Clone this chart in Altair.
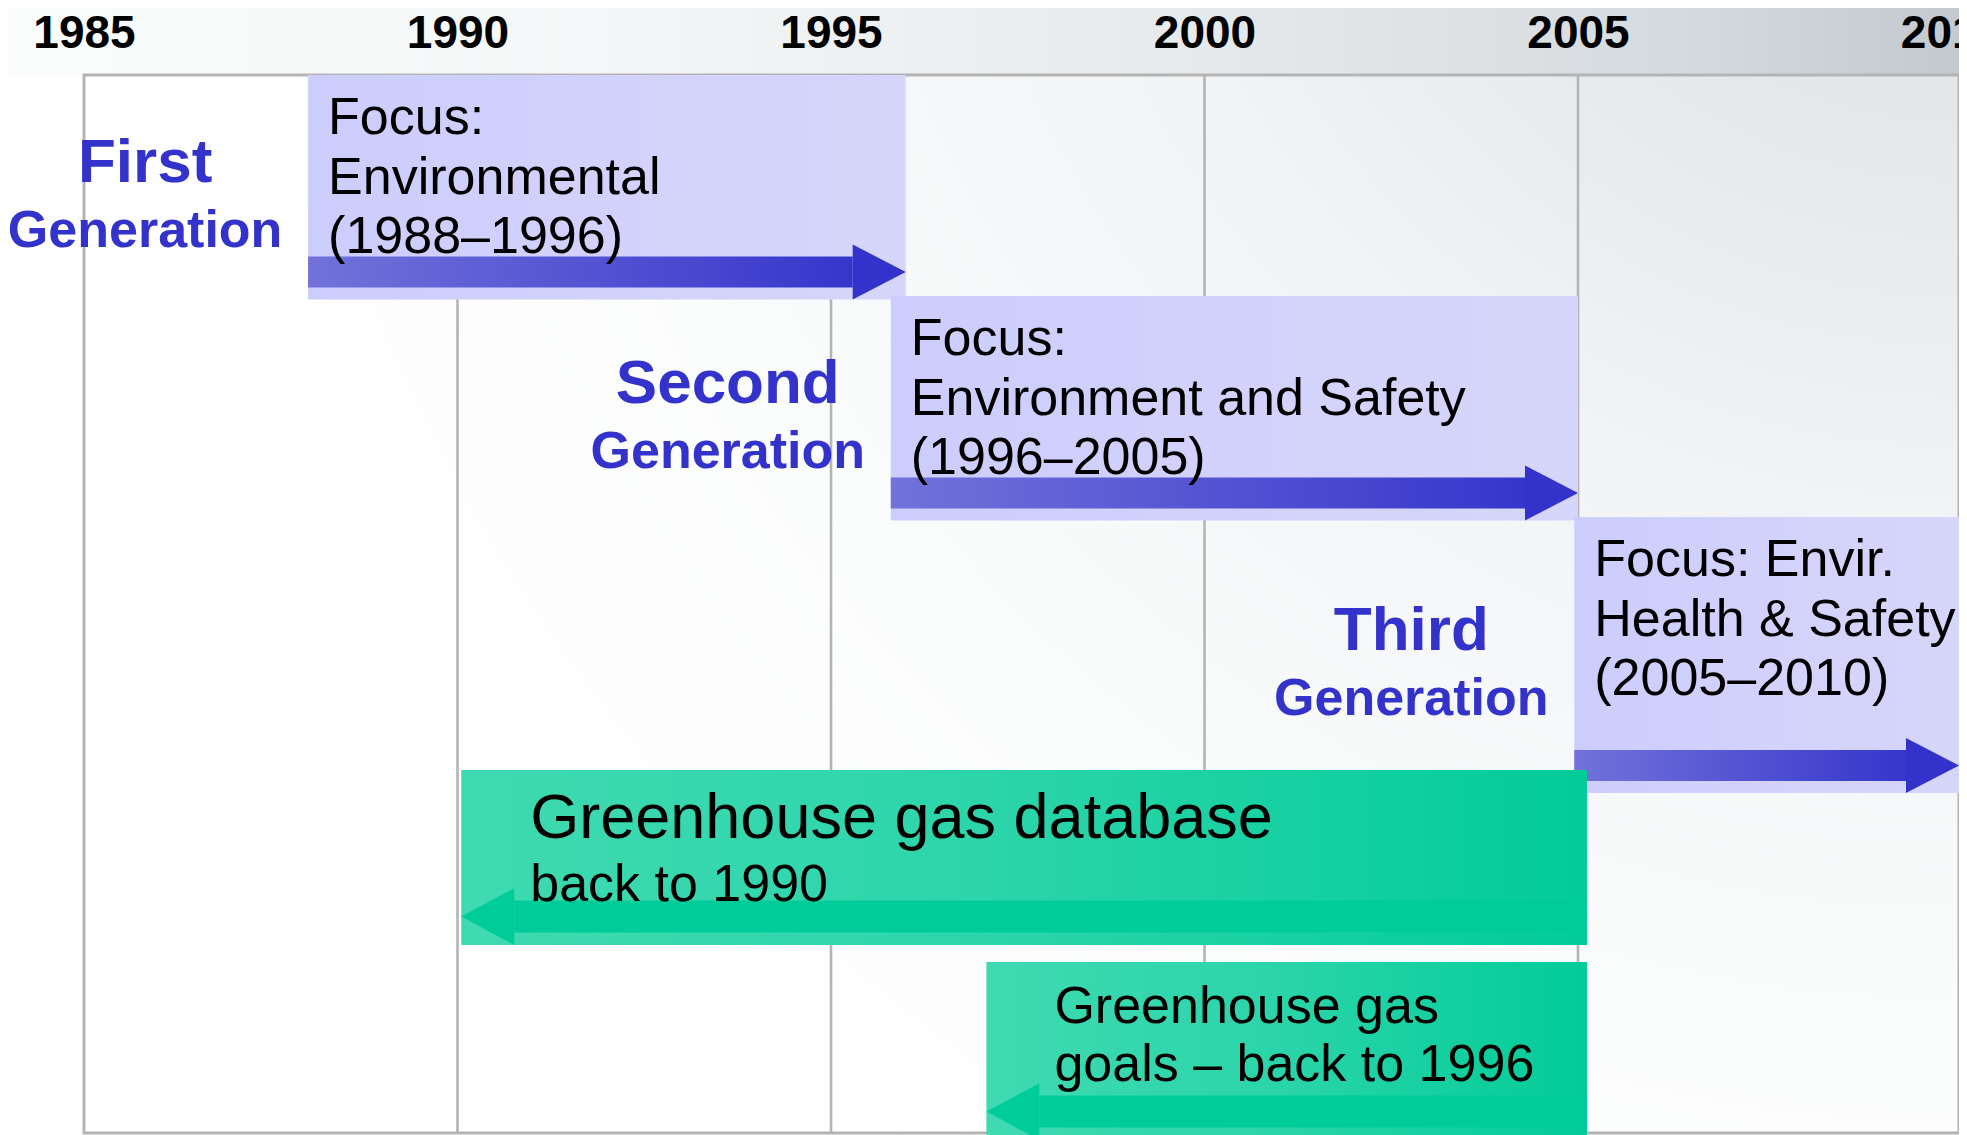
import altair as alt
import pandas as pd

# ---------------- data ----------------
tick_years = [1985, 1990, 1995, 2000, 2005, 2010]
grid_years = [1990, 1995, 2000, 2005]

gen_names = ["First", "Second", "Third"]
gen_start = [1988.0, 1995.8, 2004.95]
gen_end = [1996.0, 2005.0, 2010.1]
gen_focus = [
    "Focus:\nEnvironmental\n(1988\u20131996)",
    "Focus:\nEnvironment and Safety\n(1996\u20132005)",
    "Focus: Envir.\nHealth & Safety\n(2005\u20132010)",
]

ghg_start = [1990.05, 1997.08]
ghg_end = [2005.12, 2005.12]
ghg_title = ["Greenhouse gas database", "Greenhouse gas"]
ghg_sub = ["back to 1990", "goals \u2013 back to 1996"]

# ---------------- layout (pixels, measured down from the plot top) ----------------
W, H = 1875, 1058
X_DOMAIN = [1985, 2010.1]
PX_PER_YEAR = W / (X_DOMAIN[1] - X_DOMAIN[0])
HEAD_YEARS = 53 / PX_PER_YEAR

lav_top = [0, 221, 442]
lav_bottom = [224.5, 445.5, 718]
ghg_top = [695, 887]
ghg_bottom = [870, 1065]

FONT = "Liberation Sans, Arial, Helvetica, sans-serif"
BLUE = "#3333CC"
GREEN = "#00CC99"
GRID = "#B4B4B4"

xs = alt.Scale(domain=X_DOMAIN, nice=False, zero=False)
ys = alt.Scale(domain=[0, H], reverse=True, nice=False, zero=False)


def X(f):
    return alt.X(f, type="quantitative", scale=xs,
                 axis=alt.Axis(orient="top", values=tick_years, format="d", title=None,
                               labelFont=FONT, labelFontSize=46, labelFontWeight="bold",
                               labelColor="black", labelPadding=28, labelBaseline="alphabetic",
                               labelFlush=False, labelOverlap=False, ticks=False, tickSize=0,
                               domain=False, grid=False, zindex=1))


def Y(f):
    return alt.Y(f, type="quantitative", scale=ys, axis=None, stack=False)


# ---------------- tables ----------------
gen_df = pd.DataFrame({"name": gen_names, "start": gen_start, "end": gen_end,
                       "focus": gen_focus, "top": lav_top, "bottom": lav_bottom})
gen_df["mid"] = (gen_df["top"] + gen_df["bottom"]) / 2
gen_df["c"] = gen_df["bottom"] - 27.5
gen_df["s1"] = gen_df["c"] - 15.5
gen_df["s2"] = gen_df["c"] + 15.5
gen_df["hb"] = gen_df["end"] - HEAD_YEARS

gen_heads = []
for i, r in gen_df.iterrows():
    gen_heads.append({"id": i, "x": r["hb"], "y": r["c"] - 27.5, "y2": r["c"] + 27.5})
    gen_heads.append({"id": i, "x": r["end"], "y": r["c"], "y2": r["c"]})
gen_heads = pd.DataFrame(gen_heads)

ghg_df = pd.DataFrame({"start": ghg_start, "end": ghg_end, "top": ghg_top,
                       "bottom": ghg_bottom, "title": ghg_title, "sub": ghg_sub})
ghg_df["c"] = ghg_df["bottom"] - 28.4
ghg_df["s1"] = ghg_df["c"] - 16
ghg_df["s2"] = ghg_df["c"] + 16
ghg_df["hb"] = ghg_df["start"] + HEAD_YEARS

ghg_heads = []
for i, r in ghg_df.iterrows():
    ghg_heads.append({"id": i, "x": r["start"], "y": r["c"], "y2": r["c"]})
    ghg_heads.append({"id": i, "x": r["hb"], "y": r["c"] - 28.4, "y2": r["c"] + 28.4})
ghg_heads = pd.DataFrame(ghg_heads)

one = pd.DataFrame({"k": [0]})
grid_df = pd.DataFrame({"year": grid_years})


def grad(c0, c1, mid=None):
    stops = [alt.GradientStop(color=c0, offset=0)]
    if mid:
        stops.append(alt.GradientStop(color=mid[0], offset=mid[1]))
    stops.append(alt.GradientStop(color=c1, offset=1))
    return alt.LinearGradient(gradient="linear", stops=stops, x1=0, x2=1, y1=0, y2=0)


# ---------------- layers ----------------
band_bg = alt.Chart(one).mark_rect(
    fill=alt.LinearGradient(gradient="linear", x1=0, y1=0, x2=1, y2=0, stops=[
        alt.GradientStop(color="#FBFCFC", offset=0),
        alt.GradientStop(color="#F4F6F7", offset=0.3),
        alt.GradientStop(color="#E7EAEC", offset=0.6),
        alt.GradientStop(color="#D5DADE", offset=0.85),
        alt.GradientStop(color="#C2C8CD", offset=1),
    ])
).encode(x=alt.value(-80), x2=alt.value(W + 20), y=alt.value(-70), y2=alt.value(0))

plot_bg = alt.Chart(one).mark_rect(
    fill=alt.RadialGradient(gradient="radial", x1=1, y1=0, r1=0, x2=1, y2=0, r2=1, stops=[
        alt.GradientStop(color="#D3D8DC", offset=0),
        alt.GradientStop(color="#E3E7EA", offset=0.22),
        alt.GradientStop(color="#F1F3F5", offset=0.45),
        alt.GradientStop(color="#FBFCFC", offset=0.75),
        alt.GradientStop(color="#FFFFFF", offset=1),
    ])
).encode(x=alt.value(0), x2=alt.value(W), y=alt.value(0), y2=alt.value(H))

# axis carrier (invisible) so the year labels come from the x scale
axis_layer = alt.Chart(pd.DataFrame({"year": tick_years})).mark_point(opacity=0).encode(
    x=X("year"), y=alt.value(0))

border = alt.Chart(one).mark_rect(fillOpacity=0, stroke=GRID, strokeWidth=3).encode(
    x=alt.value(0), x2=alt.value(W), y=alt.value(0), y2=alt.value(H))

grid = alt.Chart(grid_df).mark_rule(color=GRID, strokeWidth=2.6).encode(x=X("year"))

lav_box = alt.Chart(gen_df).mark_rect(fill=grad("#CDCDFD", "#D6D6FA")).encode(
    x=X("start"), x2="end", y=Y("top"), y2="bottom")
lav_shaft = alt.Chart(gen_df).mark_rect(fill=grad("#7272DA", "#3636CC")).encode(
    x=X("start"), x2="hb", y=Y("s1"), y2="s2")
lav_head = alt.Chart(gen_heads).mark_area(color=BLUE, orient="vertical", interpolate="linear").encode(
    x=X("x"), y=Y("y"), y2="y2", detail="id:N")

ghg_box = alt.Chart(ghg_df).mark_rect(fill=grad("#3FDAB2", "#02CC99", ("#2DD5AA", 0.45))).encode(
    x=X("start"), x2="end", y=Y("top"), y2="bottom")
ghg_shaft = alt.Chart(ghg_df).mark_rect(fill=GREEN).encode(
    x=X("hb"), x2="end", y=Y("s1"), y2="s2")
ghg_head = alt.Chart(ghg_heads).mark_area(color=GREEN, orient="vertical", interpolate="linear").encode(
    x=X("x"), y=Y("y"), y2="y2", detail="id:N")

gen_word = alt.Chart(gen_df).mark_text(
    font=FONT, fontSize=62, fontWeight="bold", color=BLUE, align="center",
    baseline="alphabetic", dx=-163, dy=-5).encode(x=X("start"), y=Y("mid"), text="name:N")
gen_gen = alt.Chart(gen_df).mark_text(
    font=FONT, fontSize=52, fontWeight="bold", color=BLUE, align="center",
    baseline="alphabetic", dx=-163, dy=60, text="Generation").encode(x=X("start"), y=Y("mid"))

focus_txt = alt.Chart(gen_df).mark_text(
    font=FONT, fontSize=52, color="black", align="left", baseline="alphabetic",
    dx=20, dy=59, lineBreak="\n", lineHeight=59.5).encode(x=X("start"), y=Y("top"), text="focus:N")

g1 = ghg_df.iloc[[0]]
g2 = ghg_df.iloc[[1]]
g1_title = alt.Chart(g1).mark_text(
    font=FONT, fontSize=63, color="black", align="left", baseline="alphabetic",
    dx=69, dy=68).encode(x=X("start"), y=Y("top"), text="title:N")
g1_sub = alt.Chart(g1).mark_text(
    font=FONT, fontSize=52, color="black", align="left", baseline="alphabetic",
    dx=69, dy=130.7).encode(x=X("start"), y=Y("top"), text="sub:N")
g2_title = alt.Chart(g2).mark_text(
    font=FONT, fontSize=52, color="black", align="left", baseline="alphabetic",
    dx=68, dy=60.5).encode(x=X("start"), y=Y("top"), text="title:N")
g2_sub = alt.Chart(g2).mark_text(
    font=FONT, fontSize=52, color="black", align="left", baseline="alphabetic",
    dx=68, dy=119.4).encode(x=X("start"), y=Y("top"), text="sub:N")

chart = alt.layer(
    band_bg, plot_bg, axis_layer, border, grid,
    lav_box, lav_shaft, lav_head,
    ghg_box, ghg_shaft, ghg_head,
    gen_word, gen_gen, focus_txt,
    g1_title, g1_sub, g2_title, g2_sub,
).properties(
    width=W, height=H,
    autosize=alt.AutoSizeParams(type="none"),
    padding={"left": 76, "top": 67, "right": 0, "bottom": 2},
    background="white",
).configure_view(stroke="transparent")

chart.save("out.html", embed_options={"renderer": "svg", "actions": False})
